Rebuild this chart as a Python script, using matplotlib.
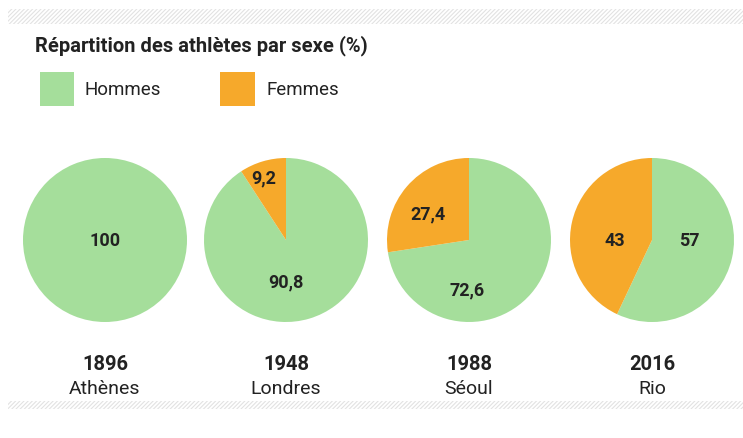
import matplotlib.pyplot as plt
from matplotlib.patches import Rectangle

plt.rcParams['font.family'] = ['Roboto', 'DejaVu Sans']
plt.rcParams['hatch.linewidth'] = 0.8

# data
years = ['1896', '1948', '1988', '2016']
cities = ['Athènes', 'Londres', 'Séoul', 'Rio']
hommes = [100, 90.8, 72.6, 57]
femmes = [0, 9.2, 27.4, 43]
lbl_h = ['100', '90,8', '72,6', '57']
lbl_f = ['', '9,2', '27,4', '43']

green = '#a5de9b'
orange = '#f6a92b'
dark = '#222222'

W, H = 743, 439
fig = plt.figure(figsize=(W / 100, H / 100), dpi=100)

# hatched bands (top and bottom)
def band(y0, y1, x0=8, x1=743):
    ax = fig.add_axes([x0 / W, 1 - y1 / H, (x1 - x0) / W, (y1 - y0) / H])
    ax.add_patch(Rectangle((0, 0), 1, 1, facecolor='white', edgecolor='#e2e2e2',
                           hatch='////////', linewidth=0))
    ax.set_xlim(0, 1)
    ax.set_ylim(0, 1)
    ax.axis('off')

band(10, 25)
band(402, 410)

# title + legend
fig.text(35 / W, 1 - 46 / H, 'Répartition des athlètes par sexe (%)', fontsize=14.5,
         fontweight='bold', color=dark, va='center', ha='left')
fig.patches.append(Rectangle((40 / W, 1 - 107 / H), 34 / W, 34 / H, transform=fig.transFigure,
                             facecolor=green, edgecolor='none'))
fig.patches.append(Rectangle((220 / W, 1 - 107 / H), 35 / W, 34 / H, transform=fig.transFigure,
                             facecolor=orange, edgecolor='none'))
fig.text(85 / W, 1 - 90 / H, 'Hommes', fontsize=13.5, color=dark, va='center')
fig.text(267 / W, 1 - 90 / H, 'Femmes', fontsize=13.5, color=dark, va='center')

centers = [105, 286, 469, 652]
cy = 241
r = 82
# label offsets inside each pie (in radius units)
pos_h = [(0, 0), (0, -0.51), (-0.02, -0.6), (0.46, 0)]
pos_f = [(0, 0), (-0.27, 0.76), (-0.5, 0.33), (-0.45, 0)]

for i in range(4):
    ax = fig.add_axes([(centers[i] - r) / W, 1 - (cy + r) / H, 2 * r / W, 2 * r / H])
    ax.pie([hommes[i], femmes[i]], colors=[green, orange], startangle=90,
           counterclock=False, wedgeprops=dict(linewidth=0))
    ax.set_xlim(-1, 1)
    ax.set_ylim(-1, 1)
    ax.set_aspect('equal')
    ax.text(pos_h[i][0], pos_h[i][1], lbl_h[i], ha='center', va='center',
            fontsize=13, fontweight='bold', color=dark)
    if lbl_f[i]:
        ax.text(pos_f[i][0], pos_f[i][1], lbl_f[i], ha='center', va='center',
                fontsize=13, fontweight='bold', color=dark)
    fig.text(centers[i] / W, 1 - 365 / H, years[i], ha='center', va='center',
             fontsize=14.5, fontweight='bold', color=dark)
    fig.text(centers[i] / W, 1 - 389 / H, cities[i], ha='center', va='center',
             fontsize=14, color=dark)

fig.savefig('out.png', dpi=100, facecolor='white')
